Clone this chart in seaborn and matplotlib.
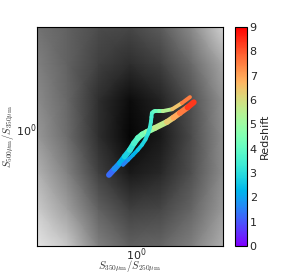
import numpy as np
import matplotlib
matplotlib.use("Agg")
import matplotlib.pyplot as plt
import seaborn as sns
from matplotlib.collections import LineCollection
from matplotlib.ticker import NullFormatter

# background colour-colour density, sampled on a coarse log grid (0 = black, 1 = white)
bg_logx = [-0.8, -0.55, -0.3, -0.05, 0.2, 0.45, 0.7]
bg_logy = [-0.8, -0.55, -0.3, -0.05, 0.2, 0.45, 0.7]
bg_gray = [  # rows from bottom to top
    [0.90, 0.78, 0.50, 0.38, 0.40, 0.50, 0.68],
    [0.80, 0.62, 0.38, 0.25, 0.28, 0.40, 0.60],
    [0.70, 0.50, 0.25, 0.10, 0.16, 0.32, 0.55],
    [0.60, 0.42, 0.18, 0.02, 0.10, 0.30, 0.55],
    [0.55, 0.40, 0.18, 0.05, 0.14, 0.32, 0.57],
    [0.50, 0.38, 0.25, 0.18, 0.25, 0.42, 0.65],
    [0.45, 0.38, 0.30, 0.28, 0.36, 0.55, 0.82],
]

# redshift tracks
track_a_x = [0.604, 0.67, 0.740, 0.81, 0.891, 0.96, 1.035, 1.12, 1.22, 1.42, 1.77, 2.0, 2.25, 2.6, 2.92]
track_a_y = [0.486, 0.535, 0.586, 0.65, 0.721, 0.80, 0.871, 0.92, 0.957, 1.02, 1.12, 1.2, 1.29, 1.41, 1.53]
track_a_z = [1.0, 1.5, 2.0, 2.5, 3.0, 3.4, 3.8, 4.2, 4.6, 5.3, 6.0, 6.6, 7.2, 7.9, 8.8]

track_b_x = [0.784, 0.86, 0.942, 1.03, 1.114, 1.19, 1.245, 1.29, 1.316, 1.33, 1.34, 1.38, 1.42, 1.52, 1.64, 1.95, 2.34, 2.72]
track_b_y = [0.569, 0.615, 0.665, 0.72, 0.780, 0.85, 0.927, 1.02, 1.12, 1.21, 1.29, 1.32, 1.33, 1.33, 1.33, 1.37, 1.51, 1.66]
track_b_z = [1.4, 1.8, 2.1, 2.4, 2.7, 2.9, 3.1, 3.3, 3.4, 3.5, 3.6, 3.8, 4.0, 4.4, 4.9, 6.0, 7.0, 8.0]

zticks = list(range(10))

sns.set_style("ticks", {"xtick.direction": "in", "ytick.direction": "in",
                        "axes.edgecolor": "black"})
plt.rcParams["font.family"] = ["DejaVu Sans"]
plt.rcParams["font.size"] = 8

fig = plt.figure(figsize=(3.0, 2.73), dpi=100)
ax = fig.add_axes([0.123, 0.099, 0.62, 0.802])

X, Y = np.meshgrid(10 ** np.array(bg_logx), 10 ** np.array(bg_logy))
ax.pcolormesh(X, Y, np.array(bg_gray), shading="gouraud", cmap="gray", vmin=0, vmax=1)

norm = plt.Normalize(0, 9)
cmap = plt.get_cmap("rainbow")


def add_track(xs, ys, zs, lw):
    pts = np.column_stack([xs, ys])
    segs = np.stack([pts[:-1], pts[1:]], axis=1)
    zmid = 0.5 * (np.array(zs[:-1]) + np.array(zs[1:]))
    lc = LineCollection(segs, cmap=cmap, norm=norm, linewidths=lw, capstyle="round")
    lc.set_array(zmid)
    ax.add_collection(lc)


add_track(track_a_x, track_a_y, track_a_z, 4.2)
add_track(track_b_x, track_b_y, track_b_z, 2.8)

ax.set_xscale("log")
ax.set_yscale("log")
ax.set_xlim(10 ** -0.8, 10 ** 0.7)
ax.set_ylim(10 ** -0.8, 10 ** 0.7)
ax.xaxis.set_minor_formatter(NullFormatter())
ax.yaxis.set_minor_formatter(NullFormatter())
ax.tick_params(which="both", top=True, right=True, direction="in", labelsize=8, pad=0.5)
ax.tick_params(which="major", length=4, width=0.6)
ax.tick_params(which="minor", length=2, width=0.5)
for s in ax.spines.values():
    s.set_linewidth(0.8)

ax.set_xlabel(r"$S_{350\mathrm{\mu m}}/S_{250\mathrm{\mu m}}$", fontsize=7.5,
              math_fontfamily="cm", color="#333333", va="center")
ax.set_ylabel(r"$S_{500\mathrm{\mu m}}/S_{350\mathrm{\mu m}}$", fontsize=7.5,
              math_fontfamily="cm", color="#333333", va="center")
ax.xaxis.set_label_coords(0.5, -0.093)
ax.yaxis.set_label_coords(-0.155, 0.5)

cax = fig.add_axes([0.783, 0.099, 0.04, 0.802])
sm = matplotlib.cm.ScalarMappable(norm=norm, cmap=cmap)
cb = fig.colorbar(sm, cax=cax)
cb.set_ticks(zticks)
cb.ax.tick_params(direction="in", length=3, width=0.5, labelsize=8, pad=2)
cb.set_label("Redshift", fontsize=8, labelpad=2)
cb.outline.set_linewidth(0.8)

fig.savefig("out.png", dpi=100)
